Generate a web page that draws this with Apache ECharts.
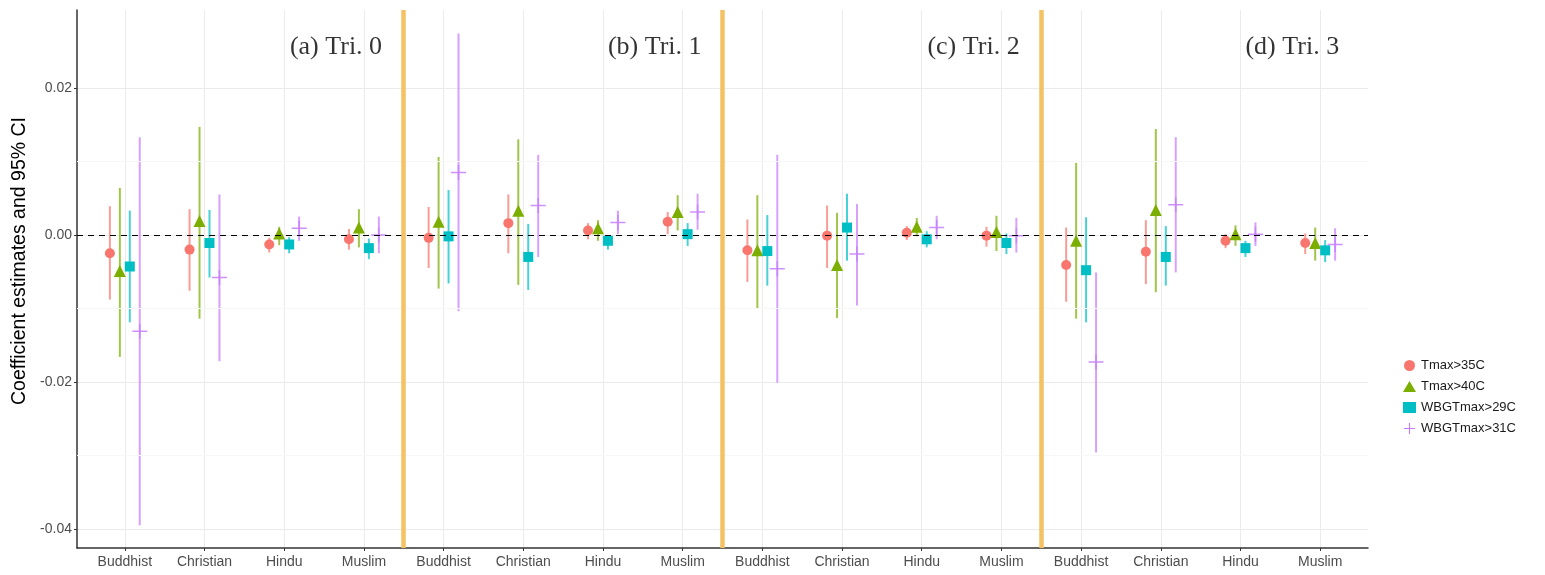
<!DOCTYPE html>
<html>
<head>
<meta charset="utf-8">
<script src="https://cdn.jsdelivr.net/npm/echarts@6/dist/echarts.min.js"></script>
<style>
html,body{margin:0;padding:0;background:#fff;}
#chart{width:1545px;height:575px;}
</style>
</head>
<body>
<div id="chart"></div>
<script>
// ---------------- data ----------------
const categories = ['Buddhist','Christian','Hindu','Muslim','Buddhist','Christian','Hindu','Muslim',
                    'Buddhist','Christian','Hindu','Muslim','Buddhist','Christian','Hindu','Muslim'];
const panelLabels = ['(a) Tri. 0','(b) Tri. 1','(c) Tri. 2','(d) Tri. 3'];
const seriesNames = ['Tmax>35C','Tmax>40C','WBGTmax>29C','WBGTmax>31C'];
const yTicks = [-0.04, -0.02, 0, 0.02];

const tmax35Est = [-0.0025,-0.0020,-0.0013,-0.0006,-0.0004,0.0016,0.0006,0.0018,-0.0021,-0.0001,0.0003,-0.0001,-0.0041,-0.0023,-0.0008,-0.0011];
const tmax35Lo  = [-0.0088,-0.0076,-0.0024,-0.0020,-0.0045,-0.0025,-0.0006,0.0001,-0.0064,-0.0045,-0.0007,-0.0016,-0.0091,-0.0067,-0.0018,-0.0026];
const tmax35Hi  = [0.0039,0.0035,-0.0004,0.0008,0.0038,0.0055,0.0016,0.0031,0.0021,0.0040,0.0012,0.0011,0.0010,0.0020,0.0001,0.0002];

const tmax40Est = [-0.0049,0.0019,0.0002,0.0010,0.0018,0.0033,0.0009,0.0031,-0.0021,-0.0041,0.0011,0.0004,-0.0008,0.0034,0.0001,-0.0011];
const tmax40Lo  = [-0.0166,-0.0114,-0.0014,-0.0017,-0.0073,-0.0068,-0.0008,0.0006,-0.0100,-0.0113,-0.0002,-0.0022,-0.0114,-0.0078,-0.0015,-0.0035];
const tmax40Hi  = [0.0064,0.0147,0.0011,0.0035,0.0106,0.0130,0.0020,0.0054,0.0054,0.0030,0.0023,0.0026,0.0098,0.0144,0.0013,0.0010];

const wbgt29Est = [-0.0043,-0.0011,-0.0013,-0.0018,-0.0002,-0.0030,-0.0008,0.0001,-0.0022,0.0010,-0.0006,-0.0011,-0.0048,-0.0030,-0.0018,-0.0021];
const wbgt29Lo  = [-0.0119,-0.0058,-0.0025,-0.0033,-0.0066,-0.0075,-0.0020,-0.0015,-0.0069,-0.0035,-0.0017,-0.0026,-0.0119,-0.0069,-0.0030,-0.0037];
const wbgt29Hi  = [0.0033,0.0034,-0.0003,-0.0005,0.0061,0.0015,0.0000,0.0016,0.0027,0.0056,0.0005,0.0002,0.0024,0.0012,-0.0008,-0.0007];

const wbgt31Est = [-0.0131,-0.0058,0.0009,0.0000,0.0085,0.0040,0.0017,0.0031,-0.0046,-0.0026,0.0010,-0.0001,-0.0173,0.0041,0.0001,-0.0013];
const wbgt31Lo  = [-0.0395,-0.0172,-0.0008,-0.0025,-0.0104,-0.0030,0.0001,0.0007,-0.0201,-0.0096,-0.0006,-0.0024,-0.0296,-0.0051,-0.0015,-0.0035];
const wbgt31Hi  = [0.0133,0.0055,0.0025,0.0025,0.0274,0.0109,0.0033,0.0056,0.0109,0.0042,0.0026,0.0023,-0.0051,0.0133,0.0017,0.0009];

// ---------------- styling / layout ----------------
const groups = [
  {est: tmax35Est, lo: tmax35Lo, hi: tmax35Hi},
  {est: tmax40Est, lo: tmax40Lo, hi: tmax40Hi},
  {est: wbgt29Est, lo: wbgt29Lo, hi: wbgt29Hi},
  {est: wbgt31Est, lo: wbgt31Lo, hi: wbgt31Hi}
];
const colors = ['#F8766D','#7CAE00','#00BFC4','#C77CFF'];
const plusPath = 'path://M0,6.3 L14,6.3 L14,7.7 L0,7.7 Z M6.3,0 L7.7,0 L7.7,14 L6.3,14 Z';
const symbols = ['circle','triangle','rect',plusPath];
const symbolSizes = [10, 12, 10, [15,15]];
const dodge = [-0.1875,-0.0625,0.0625,0.1875];
const perPanel = 4;

const series = [];
groups.forEach((g, s) => {
  const barData = categories.map((c, i) => [i + dodge[s], g.lo[i], g.hi[i]]);
  const ptData = categories.map((c, i) => [i + dodge[s], g.est[i]]);
  series.push({
    name: seriesNames[s],
    type: 'custom',
    z: 3,
    data: barData,
    encode: {x: 0, y: [1, 2]},
    renderItem: function (params, api) {
      const p1 = api.coord([api.value(0), api.value(1)]);
      const p2 = api.coord([api.value(0), api.value(2)]);
      return {
        type: 'line',
        shape: {x1: p1[0], y1: p1[1], x2: p2[0], y2: p2[1]},
        style: {stroke: colors[s], lineWidth: 2, opacity: 0.72}
      };
    },
    itemStyle: {color: colors[s]},
    silent: true
  });
  series.push({
    name: seriesNames[s],
    type: 'scatter',
    z: 4,
    data: ptData,
    symbol: symbols[s],
    symbolSize: symbolSizes[s],
    itemStyle: {color: colors[s], opacity: s === 3 ? 0.85 : 1},
    silent: true
  });
});

// reference lines (zero, minor grid, panel separators)
series.push({
  type: 'line',
  data: [],
  z: 2,
  silent: true,
  markLine: {
    silent: true,
    symbol: 'none',
    label: {show: false},
    animation: false,
    data: [
      {yAxis: 0.01, lineStyle: {color: '#f7f7f7', width: 1, type: 'solid'}},
      {yAxis: -0.01, lineStyle: {color: '#f7f7f7', width: 1, type: 'solid'}},
      {yAxis: -0.03, lineStyle: {color: '#f7f7f7', width: 1, type: 'solid'}},
      {yAxis: 0, lineStyle: {color: '#000', width: 1.2, type: [6, 5]}}
    ]
  }
});
const sepData = [];
for (let p = 1; p < panelLabels.length; p++) {
  sepData.push({xAxis: p * perPanel - 0.5});
}
series.push({
  type: 'line',
  data: [],
  z: 6,
  silent: true,
  markLine: {
    silent: true,
    symbol: 'none',
    label: {show: false},
    animation: false,
    lineStyle: {color: '#f5c263', width: 4.5, type: 'solid'},
    data: sepData
  }
});
// panel labels
series.push({
  type: 'scatter',
  z: 7,
  silent: true,
  symbolSize: 1,
  itemStyle: {color: 'rgba(0,0,0,0)'},
  data: panelLabels.map((t, p) => ({value: [p * perPanel + 2.65, 0.0256], name: t})),
  label: {
    show: true,
    position: 'inside',
    formatter: (pr) => pr.name,
    fontFamily: 'Liberation Serif',
    fontSize: 26,
    color: '#000'
  }
});

const chart = echarts.init(document.getElementById('chart'), null, {renderer: 'canvas'});
chart.setOption({
  animation: false,
  backgroundColor: '#fff',
  grid: {left: 77, right: 177, top: 10, bottom: 27, containLabel: false},
  legend: {
    orient: 'vertical',
    left: 1398,
    top: 354,
    itemWidth: 13,
    itemHeight: 11,
    itemGap: 8,
    textStyle: {fontSize: 13, color: '#1a1a1a', fontFamily: 'Liberation Sans'},
    data: seriesNames.map((n, s) => ({name: n, icon: s === 3 ? plusPath : symbols[s]})),
    selectedMode: false
  },
  xAxis: {
    type: 'value',
    min: -0.6,
    max: 15.6,
    axisLine: {show: true, onZero: false, lineStyle: {color: '#333', width: 1.5}},
    axisTick: {show: true, length: 3, customValues: categories.map((c, i) => i), lineStyle: {color: '#333'}},
    axisLabel: {
      customValues: categories.map((c, i) => i),
      formatter: (v) => categories[Math.round(v)],
      color: '#4d4d4d', fontSize: 14, fontFamily: 'Liberation Sans', margin: 7
    },
    splitLine: {show: true, lineStyle: {color: '#ebebeb', width: 1}}
  },
  yAxis: {
    type: 'value',
    min: -0.0426,
    max: 0.0306,
    name: 'Coefficient estimates and 95% CI',
    nameLocation: 'middle',
    nameGap: 46,
    nameTextStyle: {fontSize: 19.5, color: '#000', fontFamily: 'Liberation Sans', padding: [0, 0, 0, 36]},
    axisLine: {show: true, onZero: false, lineStyle: {color: '#333', width: 1.5}},
    axisTick: {show: true, length: 3, customValues: yTicks, lineStyle: {color: '#333'}},
    axisLabel: {
      customValues: yTicks,
      formatter: (v) => v.toFixed(2),
      color: '#4d4d4d', fontSize: 14, fontFamily: 'Liberation Sans', margin: 5
    },
    splitLine: {show: true, lineStyle: {color: '#ebebeb', width: 1}}
  },
  series: series
});
</script>
</body>
</html>
